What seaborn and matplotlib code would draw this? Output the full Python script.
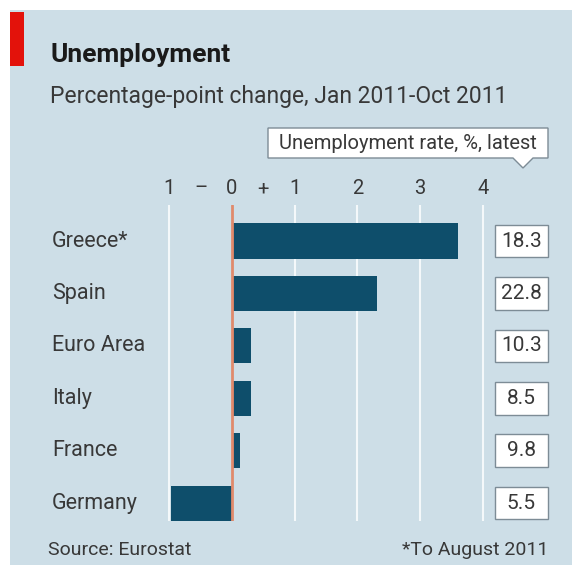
import matplotlib
matplotlib.use("Agg")
import matplotlib.pyplot as plt
import seaborn as sns
import pandas as pd
from matplotlib.patches import Rectangle, Polygon
from matplotlib.transforms import blended_transform_factory

countries = ["Greece*", "Spain", "Euro Area", "Italy", "France", "Germany"]
change = [3.61, 2.31, 0.31, 0.31, 0.12, -0.98]
latest_rate = ["18.3", "22.8", "10.3", "8.5", "9.8", "5.5"]
tick_pos = [-1, -0.5, 0, 0.5, 1, 2, 3, 4]
tick_labels = ["1", "\u2013", "0", "+", "1", "2", "3", "4"]
grid_pos = [-1, 1, 2, 3, 4]

BG = "#cddee7"
BAR = "#0e4e6b"
TXT = "#383838"
FONT = ["Roboto", "DejaVu Sans"]

sns.set_theme(style="white")
plt.rcParams["font.family"] = FONT

W, H = 580, 568
fig = plt.figure(figsize=(W / 100, H / 100), dpi=100)
fig.patch.set_facecolor("white")

def fx(x):
    return x / W

def fy(y):
    return 1 - y / H

# panel background and red tab
fig.patches.append(Rectangle((fx(10), fy(565)), fx(562), (555) / H, transform=fig.transFigure,
                             facecolor=BG, edgecolor="none", zorder=-10))
fig.patches.append(Rectangle((fx(10), fy(66)), fx(14), 54 / H, transform=fig.transFigure,
                             facecolor="#e3120b", edgecolor="none", zorder=-5))

fig.text(fx(50), fy(62), "Unemployment", fontsize=19, fontweight="bold", color="#1a1a1a", va="baseline")
fig.text(fx(50), fy(103), "Percentage-point change, Jan 2011-Oct 2011", fontsize=16.5, color=TXT, va="baseline")

# legend box with pointer
pts = [(268, 128), (548, 128), (548, 158), (533, 158), (523, 168), (513, 158), (268, 158)]
fig.patches.append(Polygon([(fx(x), fy(y)) for x, y in pts], closed=True, transform=fig.transFigure,
                           facecolor="white", edgecolor="#7d8c96", linewidth=1, zorder=2))
fig.text(fx(408), fy(143), "Unemployment rate, %, latest", fontsize=14.5, color=TXT,
         ha="center", va="center", zorder=3)

# axes: x from pixel 160 to 490, y from 205 to 521
ax = fig.add_axes([fx(160), fy(521), 330 / W, 316 / H])
ax.set_facecolor("none")

df = pd.DataFrame({"country": countries, "change": change})
sns.barplot(data=df, x="change", y="country", orient="h", color=BAR, width=0.67,
            saturation=1, linewidth=0, edgecolor="none", ax=ax, zorder=3)

x0 = -72 / 62.7
ax.set_xlim(x0, x0 + 330 / 62.7)
ax.set_ylim(5.34, -0.687)

for g in grid_pos:
    ax.axvline(g, color="#f4f8fa", linewidth=1.5, zorder=1)
ax.axvline(0, color="#e08a6c", linewidth=2, zorder=4)

ax.xaxis.tick_top()
ax.set_xticks(tick_pos)
ax.set_xticklabels(tick_labels, fontsize=14.5, color=TXT)
ax.tick_params(axis="x", length=0, pad=5)
ax.set_yticks([])
ax.set_xlabel("")
ax.set_ylabel("")
for s in ax.spines.values():
    s.set_visible(False)

tr = blended_transform_factory(fig.transFigure, ax.transData)
for i, (c, r) in enumerate(zip(countries, latest_rate)):
    ax.text(fx(52), i, c, transform=tr, fontsize=15.5, color=TXT, ha="left", va="center", clip_on=False)
    ax.add_patch(Rectangle((fx(495), i - 0.31), 53 / W, 0.62, transform=tr, facecolor="white",
                           edgecolor="#7d8c96", linewidth=1, clip_on=False, zorder=5))
    ax.text(fx(521.5), i, r, transform=tr, fontsize=15, color=TXT, ha="center", va="center",
            clip_on=False, zorder=6)

fig.text(fx(48), fy(550), "Source: Eurostat", fontsize=14, color=TXT, va="center")
fig.text(fx(548), fy(550), "*To August 2011", fontsize=14, color=TXT, va="center", ha="right")

fig.savefig("out.png", dpi=100)
